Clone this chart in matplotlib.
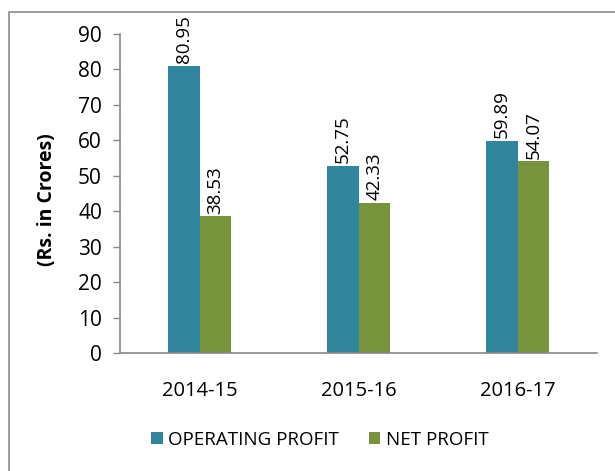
import matplotlib
matplotlib.use("Agg")
import matplotlib.pyplot as plt
import numpy as np
from matplotlib.patches import Rectangle

categories = ["2014-15", "2015-16", "2016-17"]
operating_profit = [80.95, 52.75, 59.89]
net_profit = [38.53, 42.33, 54.07]
series_names = ["OPERATING PROFIT", "NET PROFIT"]
colors = ["#31859C", "#77933C"]

plt.rcParams['font.family'] = ['Open Sans', 'DejaVu Sans']

fig = plt.figure(figsize=(6.15, 4.71), dpi=100)
ax = fig.add_axes([120/615, 1-353/471, 477/615, (353-34)/471])

x = np.arange(len(categories))
w = 0.2
b1 = ax.bar(x - w/2, operating_profit, w, color=colors[0], label=series_names[0])
b2 = ax.bar(x + w/2, net_profit, w, color=colors[1], label=series_names[1])

for bars, vals in ((b1, operating_profit), (b2, net_profit)):
    for r, v in zip(bars, vals):
        ax.annotate(f"{v:.2f}", (r.get_x() + r.get_width()/2, r.get_height()),
                    xytext=(0, 2), textcoords="offset points",
                    rotation=90, ha="center", va="bottom", fontsize=13.5)

ax.set_xlim(-0.5, 2.5)
ax.set_ylim(0, 90)
ax.set_yticks(range(0, 91, 10))
ax.set_xticks(x)
ax.set_xticklabels(categories)
ax.tick_params(axis='y', length=5, width=1, color="#898989", labelsize=15, pad=8)
ax.tick_params(axis='x', length=0, labelsize=14.5, pad=20)
for s in ["top", "right"]:
    ax.spines[s].set_visible(False)
for s in ["left", "bottom"]:
    ax.spines[s].set_color("#898989")
    ax.spines[s].set_linewidth(1.2)

fig.text(47/615, 1-200/471, "(Rs. in Crores)", rotation=90, ha="center", va="center",
         fontsize=14, fontweight="bold")

leg = fig.legend(handles=[b1, b2], labels=series_names, loc="center",
                 bbox_to_anchor=(320/615, 1-440/471), ncol=2, frameon=False,
                 fontsize=13.5, handlelength=0.6, handleheight=0.6,
                 columnspacing=1.6, handletextpad=0.3)

# outer border
fig.patches.append(Rectangle((9/615, -0.05), 1.1, 1-12/471+0.05, transform=fig.transFigure,
                             fill=False, edgecolor="#898989", linewidth=1.2))

fig.savefig("out.png", dpi=100)
